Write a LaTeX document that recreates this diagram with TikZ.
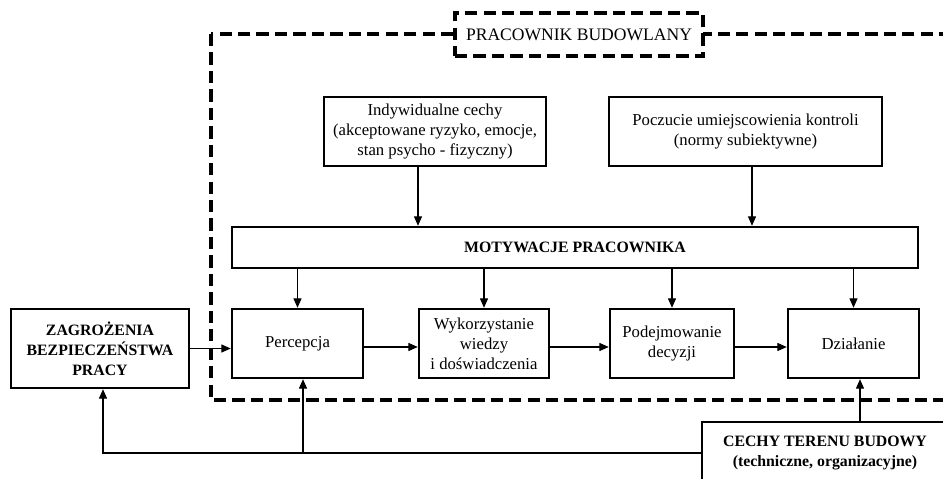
\documentclass[tikz,border=0pt]{standalone}
\usepackage{fontspec}
\setmainfont{Liberation Serif}
\usetikzlibrary{arrows.meta, calc}
\tikzset{
  box/.style={rectangle, draw=black, line width=1.4pt, align=center, inner sep=2pt,
              font=\fontsize{9.5}{11.4}\selectfont},
  lowbox/.style={box, minimum width=2.62cm, minimum height=1.38cm},
  bbox/.style={box, font=\fontsize{9}{11.4}\selectfont\bfseries},
  frame/.style={draw=black, line width=1.9pt, dash pattern=on 7pt off 3.5pt},
  flow/.style={-{Triangle[length=5.4pt, width=4.6pt]}, line width=0.6pt},
}

\begin{document}
\begin{tikzpicture}[x=0.02cm, y=-0.02cm]
\useasboundingbox (0,0) rectangle (943,479);
\clip (0,0) rectangle (943,479);

% Worker frame with its title
\draw[frame] (211,34) rectangle (990,400);
\node[box, frame, fill=white, minimum width=4.96cm, minimum height=0.86cm,
      font=\fontsize{10}{12}\selectfont] (worker) at (579,34.5) {PRACOWNIK BUDOWLANY};

% Personal factors
\node[box, minimum width=4.44cm, minimum height=1.38cm] (traits) at (435,131.5)
  {Indywidualne cechy\\(akceptowane ryzyko, emocje,\\stan psycho - fizyczny)};
\node[box, minimum width=5.46cm, minimum height=1.38cm] (locus) at (745.5,131.5)
  {Poczucie umiejscowienia kontroli\\(normy subiektywne)};

% Motivation bar
\node[bbox, minimum width=13.72cm, minimum height=0.82cm] (motiv) at (575,247.5)
  {MOTYWACJE PRACOWNIKA};

% Process chain
\node[lowbox] (perc) at (297.5,343.5) {Percepcja};
\node[lowbox, minimum width=2.6cm] (know) at (484,343.5) {Wykorzystanie\\wiedzy\\i doświadczenia};
\node[lowbox, minimum width=2.48cm] (decide) at (672,343.5) {Podejmowanie\\decyzji};
\node[lowbox] (act) at (853.5,343.5) {Działanie};

% Outside the worker
\node[bbox, minimum width=3.56cm, minimum height=1.58cm] (hazard) at (100,348.5)
  {ZAGROŻENIA\\BEZPIECZEŃSTWA\\PRACY};
\node[bbox, minimum width=4.92cm, minimum height=1.24cm] (site) at (825,453)
  {CECHY TERENU BUDOWY\\(techniczne, organizacyjne)};

% Into the motivation bar
\draw[flow] ([xshift=-3.4mm]traits.south) -- ([xshift=-3.4mm]traits.south |- motiv.north);
\draw[flow] ([xshift=1.3mm]locus.south)   -- ([xshift=1.3mm]locus.south |- motiv.north);

% Motivation to each step
\draw[flow] (motiv.south -| perc.north)   -- (perc.north);
\draw[flow] (motiv.south -| know.north)   -- (know.north);
\draw[flow] (motiv.south -| decide.north) -- (decide.north);
\draw[flow] (motiv.south -| act.north)    -- (act.north);

% Chain
\draw[flow] (hazard.east) -- (hazard.east -| perc.west);
\draw[flow] ([yshift=-0.7mm]perc.east)   -- ([yshift=-0.7mm]know.west);
\draw[flow] ([yshift=-0.7mm]know.east)   -- ([yshift=-0.7mm]decide.west);
\draw[flow] ([yshift=-0.7mm]decide.east) -- ([yshift=-0.7mm]act.west);

% Site feedback
\draw[flow] ([xshift=1.3mm]act.south |- site.north) -- ([xshift=1.3mm]act.south);
\draw[flow] (site.west) -| ([xshift=0.6mm]hazard.south);
\draw[flow] ([xshift=1.1mm]perc.south |- site.west) -- ([xshift=1.1mm]perc.south);

\end{tikzpicture}
\end{document}
